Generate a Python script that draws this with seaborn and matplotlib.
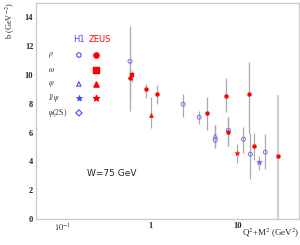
import numpy as np
import pandas as pd
import matplotlib
matplotlib.use("Agg")
import matplotlib.pyplot as plt
import seaborn as sns

# ---- data ----
h1_rho_x = [0.59, 2.38, 3.63, 5.53, 7.8, 11.6, 13.9, 20.6]
h1_rho_y = [10.95, 7.97, 7.07, 5.47, 6.17, 5.54, 4.5, 4.64]
h1_rho_lo = [8.4, 7.1, 6.6, 4.9, 5.1, 4.6, 2.8, 3.5]
h1_rho_hi = [13.4, 8.7, 7.5, 6.5, 7.1, 6.4, 6.0, 5.9]

h1_phi_x = [5.53]
h1_phi_y = [5.75]
h1_phi_lo = [4.9]
h1_phi_hi = [6.5]

h1_jpsi_x = [17.6]
h1_jpsi_y = [3.95]
h1_jpsi_lo = [3.4]
h1_jpsi_hi = [4.4]

zeus_rho_x = [0.59, 0.9, 1.2, 4.48, 7.4, 13.5, 7.8, 15.4, 29.0]
zeus_rho_y = [9.77, 9.0, 8.66, 7.35, 8.52, 8.66, 6.03, 5.06, 4.37]
zeus_rho_lo = [7.5, 8.4, 8.0, 6.2, 7.4, 6.0, 5.1, 4.1, -1.0]
zeus_rho_hi = [11.0, 9.4, 9.3, 8.5, 9.8, 10.9, 7.1, 6.0, 8.6]

zeus_omega_x = [0.62]
zeus_omega_y = [9.98]
zeus_omega_lo = [9.5]
zeus_omega_hi = [10.3]

zeus_phi_x = [1.03]
zeus_phi_y = [7.2]
zeus_phi_lo = [6.3]
zeus_phi_hi = [8.5]

zeus_jpsi_x = [9.9]
zeus_jpsi_y = [4.57]
zeus_jpsi_lo = [3.9]
zeus_jpsi_hi = [5.2]

legend_labels = [r"$\rho$", r"$\omega$", r"$\varphi$", r"J/$\psi$", r"$\psi$(2S)"]
xtick_vals = [0.1, 1, 10]
xtick_labels = [r"$10^{-1}$", "1", "10"]
ytick_vals = [0, 2, 4, 6, 8, 10, 12, 14]

rows = []
def add(exp, meson, xs, ys, los, his):
    for x, y, lo, hi in zip(xs, ys, los, his):
        rows.append(dict(exp=exp, meson=meson, x=x, y=y, lo=lo, hi=hi))

add("H1", "rho", h1_rho_x, h1_rho_y, h1_rho_lo, h1_rho_hi)
add("H1", "phi", h1_phi_x, h1_phi_y, h1_phi_lo, h1_phi_hi)
add("H1", "jpsi", h1_jpsi_x, h1_jpsi_y, h1_jpsi_lo, h1_jpsi_hi)
add("ZEUS", "rho", zeus_rho_x, zeus_rho_y, zeus_rho_lo, zeus_rho_hi)
add("ZEUS", "omega", zeus_omega_x, zeus_omega_y, zeus_omega_lo, zeus_omega_hi)
add("ZEUS", "phi", zeus_phi_x, zeus_phi_y, zeus_phi_lo, zeus_phi_hi)
add("ZEUS", "jpsi", zeus_jpsi_x, zeus_jpsi_y, zeus_jpsi_lo, zeus_jpsi_hi)
df = pd.DataFrame(rows)

sns.set_style("white")
plt.rcParams["font.family"] = ["Liberation Serif", "DejaVu Serif"]
plt.rcParams["mathtext.fontset"] = "stix"

BLUE = "#7070ff"
BLUE_TXT = "#4848ff"
RED = "#ff0000"

fig = plt.figure(figsize=(3.0, 2.45), dpi=100)
ax = fig.add_axes([0.12, 0.106, 0.877, 0.882])

# error bars
wide = df["lo"] < 0
ax.vlines(df.loc[~wide, "x"], df.loc[~wide, "lo"], df.loc[~wide, "hi"],
          color="#aaaaaa", lw=0.9, zorder=1)
ax.vlines(df.loc[wide, "x"], df.loc[wide, "lo"], df.loc[wide, "hi"],
          color="#d0d0d0", lw=1.6, zorder=1)

mk = {"rho": "o", "omega": "s", "phi": "^", "jpsi": "*"}
sz = {"rho": 8, "omega": 8, "phi": 9, "jpsi": 14}
for meson, m in mk.items():
    d = df[(df.exp == "H1") & (df.meson == meson)]
    if len(d):
        sns.scatterplot(data=d, x="x", y="y", ax=ax, marker=m, s=sz[meson],
                        facecolor="none" if m != "*" else BLUE,
                        edgecolor=BLUE, linewidth=0.7,
                        legend=False, zorder=3)
    d = df[(df.exp == "ZEUS") & (df.meson == meson)]
    if len(d):
        sns.scatterplot(data=d, x="x", y="y", ax=ax, marker=m, s=sz[meson],
                        color=RED, edgecolor=RED, linewidth=0.3,
                        legend=False, zorder=4)

ax.set_xscale("log")
ax.set_xlim(0.05, 50)
ax.set_ylim(0, 15)
ax.set_xticks(xtick_vals)
ax.set_xticklabels(xtick_labels)
ax.set_yticks(ytick_vals)
ax.set_yticks(np.arange(0, 15.01, 0.5), minor=True)
ax.tick_params(axis="both", which="both", direction="in", color="#aaaaaa",
               labelsize=6, pad=2)
ax.tick_params(which="major", length=3, width=0.6)
ax.tick_params(which="minor", length=1.5, width=0.5)
for lab in ax.get_xticklabels() + ax.get_yticklabels():
    lab.set_fontweight("bold")
for s in ax.spines.values():
    s.set_color("#cccccc")
    s.set_linewidth(1.0)
ax.set_xlabel("")
ax.set_ylabel("")

# legend block
ax.text(0.163, 0.829, "H1", color=BLUE_TXT, fontsize=6, ha="center", va="center",
        family="DejaVu Sans", transform=ax.transAxes)
ax.text(0.242, 0.829, "ZEUS", color=RED, fontsize=6, ha="center", va="center",
        family="DejaVu Sans", transform=ax.transAxes)
row_y = [0.759, 0.690, 0.625, 0.560, 0.491]
h1_mk = ["o", None, "^", "*", "D"]
zeus_mk = ["o", "s", "^", "*", None]
for lab, yy, hm, zm in zip(legend_labels, row_y, h1_mk, zeus_mk):
    ax.text(0.046, yy, lab, fontsize=5.5, ha="left", va="center",
            transform=ax.transAxes)
    if hm:
        ax.scatter([0.163], [yy], marker=hm, s=10 if hm != "*" else 16,
                   facecolor="none" if hm != "*" else BLUE_TXT,
                   edgecolor=BLUE_TXT, linewidth=0.8, transform=ax.transAxes,
                   clip_on=False)
    if zm:
        ax.scatter([0.228], [yy], marker=zm, s=14 if zm != "*" else 18,
                   color=RED, transform=ax.transAxes, clip_on=False)

ax.text(0.194, 0.213, "W=75 GeV", fontsize=6.5, ha="left", va="center",
        family="DejaVu Sans", transform=ax.transAxes)

fig.text(0.035, 0.99, r"b (GeV$^{-2}$)", rotation=90, ha="center", va="top",
         fontsize=6)
fig.text(0.997, 0.045, r"Q$^2$+M$^2$ (GeV$^2$)", ha="right", va="center",
         fontsize=6.5)

fig.savefig("out.png", dpi=100)
